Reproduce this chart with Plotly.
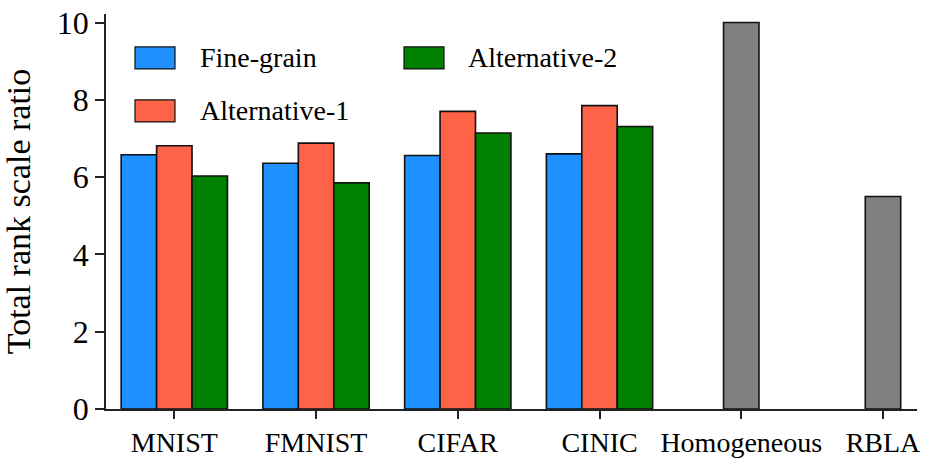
import plotly.graph_objects as go

categories = ["MNIST", "FMNIST", "CIFAR", "CINIC", "Homogeneous", "RBLA"]
fine_grain = [6.58, 6.36, 6.56, 6.60]
alternative_1 = [6.81, 6.88, 7.70, 7.85]
alternative_2 = [6.03, 5.85, 7.14, 7.31]
single_values = [10.0, 5.50]  # Homogeneous, RBLA

W, H = 932, 464
OFF = 0  # body margin removed in the page (see post_script)
PL, PR, PT, PB = 106, 917, 14, 409.3  # target plot box in screen pixels
L, T = PL - OFF, PT - OFF
R = W - (PR - OFF)
B = H - (PB - OFF)
PW, PH = PR - PL, PB - PT

def px(x):
    return (x - PL) / PW

def py(y):
    return (PB - y) / PH

FONT = "Liberation Serif, Times New Roman, serif"
EDGE = dict(color="#111111", width=1.6)
bw = 0.25

fig = go.Figure()
xs4 = list(range(4))
series = [
    ("Fine-grain", fine_grain, "#1E90FF", -0.375),
    ("Alternative-1", alternative_1, "#FF6347", -0.125),
    ("Alternative-2", alternative_2, "#008000", 0.125),
]
for name, vals, col, off in series:
    fig.add_trace(go.Bar(x=xs4, y=vals, name=name, width=bw, offset=off,
                         marker=dict(color=col, line=EDGE), showlegend=False))
fig.add_trace(go.Bar(x=[4, 5], y=single_values, width=bw, offset=-0.125,
                     marker=dict(color="#808080", line=EDGE), showlegend=False))

# manual legend (patches + labels)
legend_items = [
    ("Fine-grain", "#1E90FF", 135, 47, 175, 69, 198),
    ("Alternative-1", "#FF6347", 135, 100, 175, 122, 198),
    ("Alternative-2", "#008000", 404, 47, 444, 69, 466),
]
for name, col, x0, y0, x1, y1, tx in legend_items:
    fig.add_shape(type="rect", xref="paper", yref="paper",
                  x0=px(x0), x1=px(x1), y0=py(y1), y1=py(y0),
                  fillcolor=col, line=dict(color="#111111", width=1.2))
    fig.add_annotation(xref="paper", yref="paper", x=px(tx), y=py((y0 + y1) / 2),
                       text=name, showarrow=False, xanchor="left", yanchor="middle",
                       font=dict(family=FONT, size=28, color="black"))

fig.update_layout(
    width=W, height=H,
    margin=dict(l=L, r=R, t=T, b=B, autoexpand=False),
    paper_bgcolor="white", plot_bgcolor="white",
    barmode="overlay",
    font=dict(family=FONT, color="black"),
)
fig.update_xaxes(
    range=[-0.482, 5.24], tickvals=list(range(len(categories))), ticktext=categories,
    showline=True, linecolor="#222222", linewidth=1.5, ticks="outside", ticklen=8,
    tickwidth=1.5, tickcolor="#222222", showgrid=False, zeroline=False, automargin=False,
    tickfont=dict(family=FONT, size=28, color="black"), ticklabeloverflow="allow",
)
fig.update_yaxes(
    range=[0, 10.22], tickvals=[0, 2, 4, 6, 8, 10],
    showline=True, linecolor="#222222", linewidth=1.5, ticks="outside", ticklen=9,
    tickwidth=1.5, tickcolor="#222222", showgrid=False, zeroline=False, automargin=False,
    tickfont=dict(family=FONT, size=32, color="black"), ticklabeloverflow="allow",
    title=dict(text="Total rank scale ratio", font=dict(family=FONT, size=34, color="black"),
               standoff=25),
)

fig.write_html("out.html", config={"displayModeBar": False},
               post_script="document.body.style.margin='0';")
